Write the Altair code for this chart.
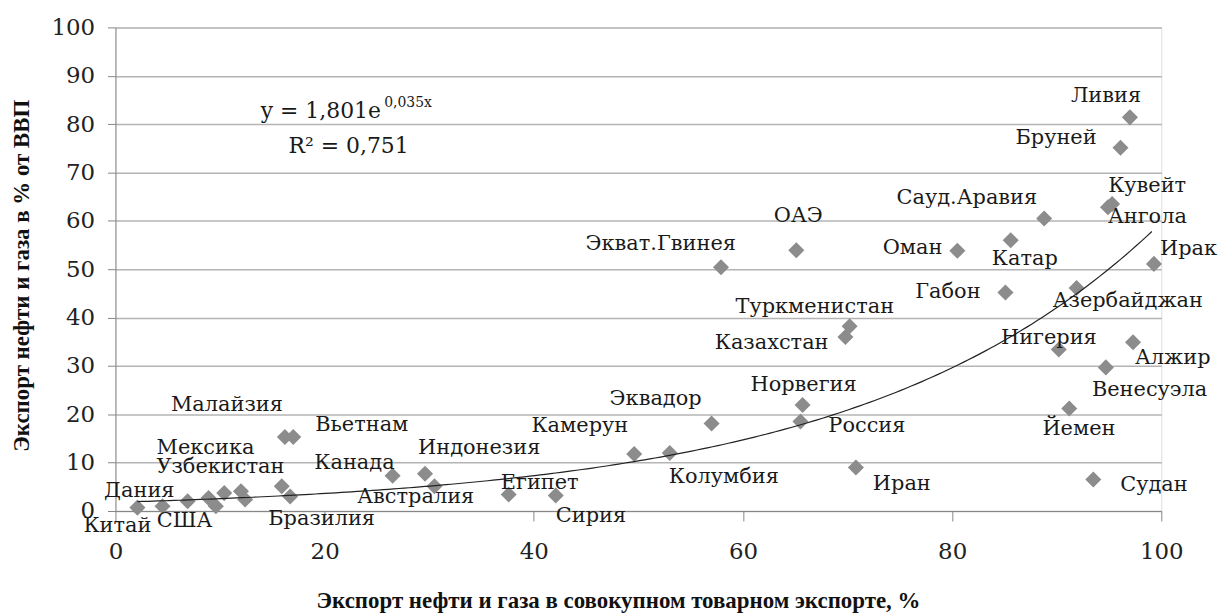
import altair as alt
import pandas as pd

# ---- data ----
countries = ["Китай", "Дания", "США", "", "", "Мексика", "Узбекистан", "", "", "Бразилия",
             "Малайзия", "Вьетнам", "Канада", "Индонезия", "Австралия", "Египет", "Сирия",
             "Камерун", "Колумбия", "Эквадор", "Норвегия", "Россия", "Иран", "Казахстан",
             "Туркменистан", "Экват.Гвинея", "ОАЭ", "Оман", "Сауд.Аравия", "Катар", "Габон",
             "Азербайджан", "Нигерия", "Алжир", "Венесуэла", "Йемен", "Судан", "Ирак",
             "Кувейт", "Ангола", "Бруней", "Ливия"]
export_share = [2.1, 4.5, 6.9, 8.9, 9.6, 10.4, 12.0, 12.4, 15.9, 16.7,
                16.2, 17.0, 26.5, 29.6, 30.5, 37.6, 42.1,
                49.6, 53.0, 57.0, 65.7, 65.5, 70.8, 69.8,
                70.2, 57.9, 65.1, 80.5, 88.8, 85.6, 85.1,
                91.9, 90.2, 97.3, 94.7, 91.2, 93.5, 99.3,
                95.3, 94.9, 96.1, 97.0]
gdp_share = [0.7, 1.0, 2.0, 2.7, 1.0, 3.7, 4.1, 2.4, 5.1, 3.0,
             15.3, 15.3, 7.3, 7.7, 5.1, 3.4, 3.2,
             11.8, 12.0, 18.1, 21.9, 18.5, 9.0, 36.0,
             38.2, 50.4, 53.9, 53.8, 60.5, 56.0, 45.2,
             46.1, 33.4, 34.9, 29.7, 21.2, 6.5, 51.1,
             63.5, 62.8, 75.1, 81.4]

# trend line stated on the chart: y = 1,801 e^(0,035x)
trend_a = 1.801
trend_b = 0.035

x_ticks = [0, 20, 40, 60, 80, 100]
y_ticks = [0, 10, 20, 30, 40, 50, 60, 70, 80, 90, 100]

# ---- label placement (align, dx, dy in px) ----
label_place = {
    "Китай": ("right", 14, 18), "Дания": ("right", 12, -15), "США": ("left", -31, 20),
    "Мексика": ("left", -68, -45), "Узбекистан": ("left", -85, -24),
    "Бразилия": ("left", -22, 23), "Малайзия": ("right", -2, -32), "Вьетнам": ("left", 22, -12),
    "Канада": ("right", 2, -13), "Индонезия": ("left", -7, -26), "Австралия": ("right", 40, 11),
    "Египет": ("left", -8, -12), "Сирия": ("left", 0, 21), "Камерун": ("right", -6, -28),
    "Колумбия": ("left", -1, 24), "Эквадор": ("right", -10, -25), "Норвегия": ("center", 1, -20),
    "Россия": ("left", 28, 5), "Иран": ("left", 17, 17), "Казахстан": ("right", -17, 6),
    "Туркменистан": ("center", -35, -19), "Экват.Гвинея": ("right", 15, -23),
    "ОАЭ": ("center", 2, -34), "Оман": ("right", -15, -3), "Сауд.Аравия": ("right", -7, -20),
    "Катар": ("left", -19, 19), "Габон": ("right", -25, 0), "Азербайджан": ("left", -24, 13),
    "Нигерия": ("center", -10, -12), "Алжир": ("left", 2, 16), "Венесуэла": ("left", -14, 23),
    "Йемен": ("left", -27, 21), "Судан": ("left", 27, 5), "Ирак": ("left", 6, -15),
    "Кувейт": ("left", -4, -18), "Ангола": ("left", 0, 10), "Бруней": ("right", -24, -10),
    "Ливия": ("center", -24, -21),
}

FONT = "DejaVu Serif"
TITLE_FONT = "Liberation Serif"
W, H = 1051, 486

df = pd.DataFrame({"country": countries, "x": export_share, "y": gdp_share})
one_row = pd.DataFrame({"k": [0]})

xscale = alt.Scale(domain=[0, 100], nice=False, zero=False)
yscale = alt.Scale(domain=[0, 100], nice=False, zero=False)

base = alt.Chart(df)

points = base.mark_point(shape="diamond", filled=True, size=260, color="#8c8c8c", opacity=1).encode(
    x=alt.X("x:Q", scale=xscale, axis=alt.Axis(
        values=x_ticks, grid=False, title="Экспорт нефти и газа в совокупном товарном экспорте, %",
        titleFont=TITLE_FONT, titleFontSize=23, titleFontWeight="bold", titleColor="#111",
        titleX=505, titleY=90, titleBaseline="middle", titleAnchor="start", titleAlign="center",
        labelFont=FONT, labelFontSize=23, labelColor="#222", labelBaseline="middle",
        labelPadding=31, tickSize=10, tickColor="#868686", domainColor="#868686",
        labelFlush=False)),
    y=alt.Y("y:Q", scale=yscale, axis=alt.Axis(
        values=y_ticks, grid=True, gridColor="#b4b4b4", gridWidth=1.5,
        title="Экспорт нефти и газа в % от ВВП",
        titleFont=TITLE_FONT, titleFontSize=23, titleFontWeight="bold", titleColor="#111",
        titleX=-94, titleY=249, titleBaseline="middle", titleAlign="center", titleAngle=270,
        labelFont=FONT, labelFontSize=23, labelColor="#222", labelPadding=13,
        tickSize=8, tickColor="#868686", domainColor="#868686", labelFlush=False)),
)

trend = alt.Chart(alt.sequence(min(export_share), max(export_share) + 0.01, 0.5, as_="x")).transform_calculate(
    y=f"{trend_a} * exp({trend_b} * datum.x)"
).mark_line(color="#222", strokeWidth=1.2).encode(
    x=alt.X("x:Q", scale=xscale), y=alt.Y("y:Q", scale=yscale)
)

layers = [points, trend]
for name, (align, dx, dy) in label_place.items():
    layers.append(
        base.transform_filter(alt.datum.country == name).mark_text(
            font=FONT, fontSize=21, color="#1a1a1a", align=align, baseline="middle", dx=dx, dy=dy
        ).encode(x=alt.X("x:Q", scale=xscale), y=alt.Y("y:Q", scale=yscale), text="country:N")
    )

eq1 = alt.Chart(one_row).mark_text(font=FONT, fontSize=22, color="#1a1a1a", align="left", baseline="middle").encode(
    x=alt.value(146), y=alt.value(84), text=alt.value("y = 1,801e"))
eq2 = alt.Chart(one_row).mark_text(font=FONT, fontSize=14, color="#1a1a1a", align="left", baseline="middle").encode(
    x=alt.value(270), y=alt.value(76), text=alt.value("0,035x"))
eq3 = alt.Chart(one_row).mark_text(font=FONT, fontSize=22, color="#1a1a1a", align="left", baseline="middle").encode(
    x=alt.value(174), y=alt.value(119), text=alt.value("R² = 0,751"))
layers += [eq1, eq2, eq3]

chart = alt.layer(*layers).properties(
    width=W, height=H,
    autosize=alt.AutoSizeParams(type="none"),
    padding={"left": 108, "top": 18, "right": 58, "bottom": 102},
).configure_view(stroke=None).configure(background="white")

chart.save("out.html", embed_options={"renderer": "svg", "actions": False})
